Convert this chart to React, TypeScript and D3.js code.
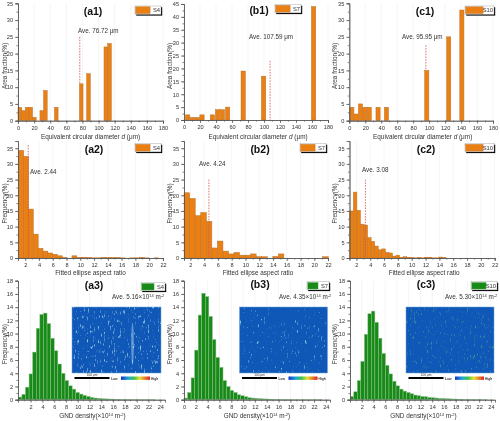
import React, { useEffect, useRef } from "react";
import * as d3 from "d3";

const sizeTicks = [0, 20, 40, 60, 80, 100, 120, 140, 160, 180];
const aspectTicks = [2, 4, 6, 8, 10, 12, 14, 16, 18, 20, 22];
const gndTicks = [2, 4, 6, 8, 10, 12, 14, 16, 18, 20, 22, 24];
const gndTicksZero = [0, ...gndTicks];

// equivalent circular diameter histograms: bin centres + values
const a1Centers = [2.3, 6.8, 11.3, 15.8, 20.3, 29.5, 34, 47.5, 78.5, 87.5, 109, 113.6];
const a1Values = [4, 3, 4, 4, 1, 3, 9, 4, 11, 14, 22, 23];
const b1Centers = [4.6, 10.7, 16.5, 22.5, 35.5, 42, 48, 54.5, 74, 99.5, 162];
const b1Values = [2, 1, 1, 2, 2, 4, 4, 5, 19, 17, 44];
const c1Centers = [3.2, 8.6, 14, 19.5, 25, 36, 46.5, 97, 124.5, 141];
const c1Values = [4, 2, 5, 4, 4, 4, 4, 15, 25, 33];

// fitted ellipse aspect ratio histograms: consecutive bins
const a2Values = [34.3, 32.4, 15.6, 7.6, 3.1, 2.2, 1.6, 1.2, 0.7, 0.1, 0, 0.7, 0.15, 0.25, 0.1, 0.05, 0.05, 0.15, 0.1, 0.15, 0.1, 0.05, 0, 0.05, 0.05, 0.15, 0.05, 0, 0.05];
const b2Values = [20.8, 19, 13.5, 14.5, 11.7, 3.2, 5.4, 2.2, 1.3, 1.8, 0.9, 0.9, 1.3, 0.4, 0.4, 0, 0.5, 1.3, 0, 0, 0, 0, 0, 0, 0, 0.4];
const c2Values = [15, 21, 15.2, 10.8, 10.5, 6.5, 5.3, 3.8, 2.6, 2.9, 1.8, 1.6, 0.6, 0.9, 0.2, 0.4, 0.2, 0.1, 0.05, 0.1, 0.05, 0.25, 0.25, 0.05, 0.05, 0.3, 0.1];

// GND density histograms: consecutive bins
const a3Values = [0.4, 0.8, 1.9, 3.9, 7.2, 10.8, 12.9, 13.1, 11.5, 9.3, 7.4, 5.4, 4, 2.9, 2.1, 1.6, 1.1, 0.85, 0.65, 0.5, 0.35, 0.25, 0.2, 0.15, 0.12, 0.1, 0.08, 0.06, 0.05, 0.04, 0.03, 0.03, 0.02, 0.02, 0.01, 0.01, 0.01, 0.01];
const b3Values = [0.25, 1.1, 3.3, 7.5, 12.8, 16.1, 15.6, 12.6, 9.1, 6.4, 4.9, 2.9, 2, 1.4, 1.1, 0.75, 0.6, 0.45, 0.3, 0.25, 0.2, 0.15, 0.12, 0.1, 0.08, 0.06, 0.05, 0.04, 0.03, 0.03, 0.02, 0.02, 0.01, 0.01, 0.01, 0.01, 0.01, 0.01, 0.01];
const c3Values = [0.5, 1.2, 2.9, 5.8, 9.9, 13, 13.4, 11.7, 9.3, 7, 5.2, 3.9, 2.8, 2.1, 1.6, 1.3, 1.1, 0.9, 0.7, 0.6, 0.5, 0.45, 0.35, 0.3, 0.25, 0.2, 0.18, 0.15, 0.12, 0.1, 0.08, 0.07, 0.05, 0.04, 0.03, 0.03, 0.02, 0.02, 0.01];

const ORANGE = "#ea7f14";
const ORANGE_EDGE = "#b9742f";
const GREEN = "#178a17";
const GREEN_EDGE = "#8ec48e";
const FONT = "'Liberation Sans', Arial, sans-serif";
const INK = "#333";

type Bar = { c: number; w: number; v: number };
const centred = (cs: number[], vs: number[], w: number): Bar[] => cs.map((c, i) => ({ c, v: vs[i], w }));
const binned = (start: number, w: number, vs: number[]): Bar[] => vs.map((v, i) => ({ c: start + (i + 0.5) * w, v, w }));

type PanelProps = {
  title: string; titleX: number; titleY: number;
  left: number; right: number; top: number; bottom: number;
  xDomain: [number, number]; yDomain: [number, number];
  xTicks: number[]; xMinor: number; yTicks: number[]; yMinor: number;
  bars: Bar[]; color: string; edge: string;
  xLabel: React.ReactNode; xLabelX: number; xLabelY: number; yLabel: string; yLabelX: number;
  legend: string; legendX: number; legendY: number; legendW: number;
  ave?: { x: number; y0: number; y1: number };
  aveText: React.ReactNode; aveX: number; aveY: number;
  inset?: { x: number; y: number; w: number; h: number; seed: number; streak?: boolean; cut: number; tint: string };
};

function Panel(p: PanelProps) {
  const gx = useRef<SVGGElement>(null);
  const gxm = useRef<SVGGElement>(null);
  const gy = useRef<SVGGElement>(null);
  const gym = useRef<SVGGElement>(null);
  const x = d3.scaleLinear().domain(p.xDomain).range([p.left, p.right]);
  const y = d3.scaleLinear().domain(p.yDomain).range([p.bottom, p.top]);
  useEffect(() => {
    const style = (g: d3.Selection<SVGGElement, unknown, null, undefined>) => {
      g.selectAll("path,line").attr("stroke", "#555").attr("stroke-width", 0.7);
      g.selectAll("text").attr("font-size", 5.6).attr("font-family", FONT).attr("fill", INK);
    };
    const xa = d3.select(gx.current!);
    xa.call(d3.axisBottom(x).tickValues(p.xTicks).tickSize(3).tickPadding(2).tickFormat(d3.format("d")) as any);
    style(xa);
    const xminor = d3.range(p.xDomain[0], p.xDomain[1] + 1e-6, p.xMinor);
    const xm = d3.select(gxm.current!);
    xm.call(d3.axisBottom(x).tickValues(xminor).tickSize(1.6).tickFormat(() => "") as any);
    style(xm);
    const ya = d3.select(gy.current!);
    ya.call(d3.axisLeft(y).tickValues(p.yTicks).tickSize(3).tickPadding(2).tickFormat(d3.format("d")) as any);
    style(ya);
    const yminor = d3.range(p.yDomain[0], p.yDomain[1] + 1e-6, p.yMinor);
    const ym = d3.select(gym.current!);
    ym.call(d3.axisLeft(y).tickValues(yminor).tickSize(1.6).tickFormat(() => "") as any);
    style(ym);
  });
  const filterId = `speck${p.inset?.seed ?? 0}`;
  const gradId = `cbar${p.inset?.seed ?? 0}`;
  return (
    <g>
      {p.xTicks.map((t) => (
        <line key={t} x1={x(t)} x2={x(t)} y1={p.top} y2={p.bottom} stroke="#f1f1f1" strokeWidth={0.7} />
      ))}
      {p.bars.map((b, i) => (
        <rect key={i} x={x(b.c - b.w / 2)} width={x(b.c + b.w / 2) - x(b.c - b.w / 2)} y={y(b.v)} height={Math.max(0, p.bottom - y(b.v))} fill={p.color} stroke={p.edge} strokeWidth={0.5} />
      ))}
      <g ref={gxm} transform={`translate(0,${p.bottom})`} />
      <g ref={gx} transform={`translate(0,${p.bottom})`} />
      <g ref={gym} transform={`translate(${p.left},0)`} />
      <g ref={gy} transform={`translate(${p.left},0)`} />
      {p.ave && (
        <line x1={x(p.ave.x)} x2={x(p.ave.x)} y1={y(p.ave.y0)} y2={y(p.ave.y1)} stroke="#d2524f" strokeWidth={0.8} strokeDasharray="1.6 1.2" />
      )}
      <text x={p.titleX} y={p.titleY} fontFamily={FONT} fontWeight="bold" fontSize={10.5} fill="#111" textAnchor="middle">{p.title}</text>
      <text x={p.aveX} y={p.aveY} fontFamily={FONT} fontSize={6.3} fill={INK}>{p.aveText}</text>
      <g>
        <rect x={p.legendX + 1.2} y={p.legendY + 1.2} width={p.legendW} height={8.4} fill="#000" />
        <rect x={p.legendX} y={p.legendY} width={p.legendW} height={8.4} fill="#fff" stroke="#999" strokeWidth={0.4} />
        <rect x={p.legendX + 0.6} y={p.legendY + 0.8} width={p.legendW - 11.5} height={6.8} fill={p.color} stroke={p.edge} strokeWidth={0.4} />
        <text x={p.legendX + p.legendW - 1} y={p.legendY + 6.4} fontFamily={FONT} fontSize={5.8} fill={INK} textAnchor="end">{p.legend}</text>
      </g>
      <text x={(p.left + p.right) / 2} y={p.xLabelY} dx={p.xLabelX} fontFamily={FONT} fontSize={6.4} fill={INK} textAnchor="middle">{p.xLabel}</text>
      <text transform={`translate(${p.yLabelX},${(p.top + p.bottom) / 2 + 4}) rotate(-90)`} fontFamily={FONT} fontSize={6.4} fill={INK} textAnchor="middle">{p.yLabel}</text>
      {p.inset && (
        <g>
          <defs>
            <filter id={filterId} x="0" y="0" width="1" height="1" colorInterpolationFilters="sRGB">
              <feTurbulence type="fractalNoise" baseFrequency="0.7 0.2" numOctaves={3} seed={p.inset.seed} />
              <feColorMatrix type="matrix" values={`0 0 0 0 ${p.inset.tint.split(" ")[0]}  0 0 0 0 ${p.inset.tint.split(" ")[1]}  0 0 0 0 ${p.inset.tint.split(" ")[2]}  5 0 0 0 ${-5 * p.inset.cut}`} />
              <feGaussianBlur stdDeviation="0.25" />
            </filter>
            <linearGradient id={gradId}>
              <stop offset="0" stopColor="#1430c8" />
              <stop offset="0.25" stopColor="#1fa8d8" />
              <stop offset="0.45" stopColor="#3fc24a" />
              <stop offset="0.65" stopColor="#e8e030" />
              <stop offset="1" stopColor="#e02020" />
            </linearGradient>
          </defs>
          <rect x={p.inset.x} y={p.inset.y} width={p.inset.w} height={p.inset.h} fill="#1058b8" />
          <rect x={p.inset.x} y={p.inset.y} width={p.inset.w} height={p.inset.h} filter={`url(#${filterId})`} />
          {p.inset.streak && (
            <ellipse cx={p.inset.x + p.inset.w * 0.68} cy={p.inset.y + p.inset.h * 0.56} rx={1.3} ry={p.inset.h * 0.32} fill="#a8cfe6" opacity={0.55} />
          )}
          <rect x={p.inset.x} y={p.inset.y} width={p.inset.w} height={p.inset.h} fill="none" stroke="#6aa5e0" strokeWidth={0.5} />
          <rect x={p.inset.x + 2.5} y={p.inset.y + p.inset.h + 4} width={35} height={2} fill="#000" />
          <text x={p.inset.x + 20} y={p.inset.y + p.inset.h + 3} fontFamily={FONT} fontSize={3.2} fill={INK} textAnchor="middle">100 μm</text>
          <text x={p.inset.x + 39} y={p.inset.y + p.inset.h + 6.6} fontFamily={FONT} fontSize={3.2} fontWeight="bold" fill={INK}>Low</text>
          <rect x={p.inset.x + 49} y={p.inset.y + p.inset.h + 3.5} width={29} height={3.4} fill={`url(#${gradId})`} />
          <text x={p.inset.x + 79} y={p.inset.y + p.inset.h + 6.6} fontFamily={FONT} fontSize={3.2} fontWeight="bold" fill={INK}>High</text>
        </g>
      )}
    </g>
  );
}

const dLabel = <>Equivalent circular diameter <tspan fontStyle="italic">d</tspan> (μm)</>;
const gndLabel = <>GND density(×10<tspan dy={-2} fontSize={4}>14</tspan><tspan dy={2}> m</tspan><tspan dy={-2} fontSize={4}>-2</tspan><tspan dy={2}>)</tspan></>;
const aveGnd = (v: string) => <>Ave. {v}×10<tspan dy={-2} fontSize={4}>14</tspan><tspan dy={2}> m</tspan><tspan dy={-2} fontSize={4}>-2</tspan></>;

const oy = (top: number, bottom: number) => ({ top, bottom });
const tick5 = (max: number) => d3.range(0, max + 1, 5);
const tick2 = d3.range(0, 19, 2);

export default function App() {
  return (
    <svg width={500} height={421} style={{ position: "absolute", left: 0, top: 0, background: "#fff", filter: "blur(0.35px)" }}>
      {/* row 1 */}
      <Panel title="(a1)" titleX={93} titleY={14.5} left={18} right={163} {...oy(3.3, 120.7)} xDomain={[0, 180]} yDomain={[0, 35]} xTicks={sizeTicks} xMinor={10} yTicks={tick5(35)} yMinor={2.5}
        bars={centred(a1Centers, a1Values, 4.5)} color={ORANGE} edge={ORANGE_EDGE} xLabel={dLabel} xLabelX={0} xLabelY={139} yLabel="Area fraction(%)" yLabelX={6.5}
        legend="S4" legendX={135} legendY={6} legendW={26} ave={{ x: 76.7, y0: 25, y1: 11 }} aveText="Ave. 76.72 μm" aveX={78} aveY={32.5} />
      <Panel title="(b1)" titleX={259} titleY={14} left={184} right={328} {...oy(4, 120)} xDomain={[0, 180]} yDomain={[0, 45]} xTicks={sizeTicks} xMinor={10} yTicks={tick5(45)} yMinor={2.5}
        bars={centred(b1Centers, b1Values, 5.4)} color={ORANGE} edge={ORANGE_EDGE} xLabel={dLabel} xLabelX={2} xLabelY={139} yLabel="Area fraction(%)" yLabelX={172}
        legend="S7" legendX={275} legendY={4.5} legendW={26} ave={{ x: 107.6, y0: 23, y1: 0 }} aveText="Ave. 107.59 μm" aveX={249} aveY={39} />
      <Panel title="(c1)" titleX={425} titleY={14.5} left={349.3} right={493} {...oy(3.3, 120.7)} xDomain={[0, 180]} yDomain={[0, 35]} xTicks={sizeTicks} xMinor={10} yTicks={tick5(35)} yMinor={2.5}
        bars={centred(c1Centers, c1Values, 5.2)} color={ORANGE} edge={ORANGE_EDGE} xLabel={dLabel} xLabelX={1.5} xLabelY={139} yLabel="Area fraction(%)" yLabelX={337}
        legend="S10" legendX={465} legendY={6} legendW={29} ave={{ x: 95.95, y0: 22.5, y1: 15 }} aveText="Ave. 95.95 μm" aveX={402} aveY={39} />
      {/* row 2 */}
      <Panel title="(a2)" titleX={94} titleY={152.5} left={18} right={163} {...oy(141, 258)} xDomain={[0.95, 22]} yDomain={[0, 37.3]} xTicks={aspectTicks} xMinor={1} yTicks={tick5(35)} yMinor={2.5}
        bars={binned(1.08, 0.7, a2Values)} color={ORANGE} edge={ORANGE_EDGE} xLabel="Fitted ellipse aspect ratio" xLabelX={0} xLabelY={275} yLabel="Frequency(%)" yLabelX={7}
        legend="S4" legendX={135} legendY={143.5} legendW={26} ave={{ x: 2.44, y0: 36, y1: 0 }} aveText="Ave. 2.44" aveX={30} aveY={174} />
      <Panel title="(b2)" titleX={260} titleY={152.5} left={184} right={328} {...oy(141, 258)} xDomain={[1.08, 22]} yDomain={[0, 37.3]} xTicks={aspectTicks} xMinor={1} yTicks={tick5(35)} yMinor={2.5}
        bars={binned(1.1, 0.805, b2Values)} color={ORANGE} edge={ORANGE_EDGE} xLabel="Fitted ellipse aspect ratio" xLabelX={2} xLabelY={275} yLabel="Frequency(%)" yLabelX={172}
        legend="S7" legendX={300} legendY={143.5} legendW={26} ave={{ x: 4.7, y0: 25, y1: 0 }} aveText="Ave. 4.24" aveX={199} aveY={166} />
      <Panel title="(c2)" titleX={426} titleY={152.5} left={349.5} right={494.7} {...oy(141, 258)} xDomain={[1, 22]} yDomain={[0, 37.3]} xTicks={aspectTicks} xMinor={1} yTicks={tick5(35)} yMinor={2.5}
        bars={binned(1.04, 0.515, c2Values)} color={ORANGE} edge={ORANGE_EDGE} xLabel="Fitted ellipse aspect ratio" xLabelX={2} xLabelY={275} yLabel="Frequency(%)" yLabelX={337}
        legend="S10" legendX={465} legendY={143.5} legendW={29} ave={{ x: 3.3, y0: 25, y1: 0 }} aveText="Ave. 3.08" aveX={362} aveY={172} />
      {/* row 3 */}
      <Panel title="(a3)" titleX={94} titleY={289} left={18} right={165} {...oy(280.7, 399.7)} xDomain={[-0.15, 24.8]} yDomain={[0, 18]} xTicks={gndTicks} xMinor={1} yTicks={tick2} yMinor={1}
        bars={binned(-0.1, 0.61, a3Values)} color={GREEN} edge={GREEN_EDGE} xLabel={gndLabel} xLabelX={1} xLabelY={418} yLabel="Frequency(%)" yLabelX={7}
        legend="S4" legendX={141} legendY={282.5} legendW={24} aveText={aveGnd("5.16")} aveX={112} aveY={299}
        inset={{ x: 72, y: 307, w: 89, h: 66, seed: 4, streak: true, cut: 0.62, tint: "0.6 0.78 0.88" }} />
      <Panel title="(b3)" titleX={260} titleY={288} left={184} right={330} {...oy(280.7, 399.7)} xDomain={[0, 24.7]} yDomain={[0, 18]} xTicks={gndTicksZero} xMinor={1} yTicks={tick2} yMinor={1}
        bars={binned(0, 0.6, b3Values)} color={GREEN} edge={GREEN_EDGE} xLabel={gndLabel} xLabelX={0} xLabelY={418} yLabel="Frequency(%)" yLabelX={172}
        legend="S7" legendX={307} legendY={281.5} legendW={22} aveText={aveGnd("4.35")} aveX={279} aveY={299}
        inset={{ x: 239.5, y: 307, w: 88, h: 66, seed: 7, cut: 0.66, tint: "0.5 0.78 0.85" }} />
      <Panel title="(c3)" titleX={426} titleY={288} left={350} right={495} {...oy(280.7, 399.7)} xDomain={[0, 24.7]} yDomain={[0, 18]} xTicks={gndTicks} xMinor={1} yTicks={tick2} yMinor={1}
        bars={binned(0.04, 0.6, c3Values)} color={GREEN} edge={GREEN_EDGE} xLabel={gndLabel} xLabelX={1} xLabelY={418} yLabel="Frequency(%)" yLabelX={337}
        legend="S10" legendX={471} legendY={281.5} legendW={26} aveText={aveGnd("5.30")} aveX={445} aveY={299}
        inset={{ x: 406, y: 307, w: 88, h: 66, seed: 10, cut: 0.64, tint: "0.22 0.58 0.62" }} />
    </svg>
  );
}
